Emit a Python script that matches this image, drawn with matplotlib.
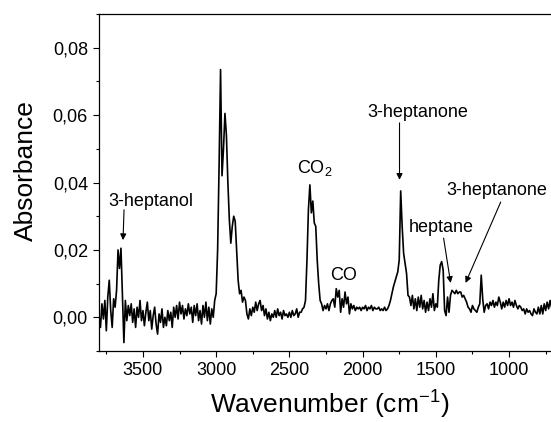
import numpy as np
import matplotlib
matplotlib.use("Agg")
import matplotlib.pyplot as plt
from matplotlib.ticker import FuncFormatter, MultipleLocator

plt.rcParams['font.family'] = ['Liberation Sans', 'DejaVu Sans']
plt.rcParams['mathtext.fontset'] = 'custom'
plt.rcParams['mathtext.rm'] = 'Liberation Sans'
plt.rcParams['mathtext.it'] = 'Liberation Sans:italic'
plt.rcParams['mathtext.default'] = 'regular'

# spectrum sampled every 10 cm-1 from 3800 down to 700
wavenumber = np.arange(3800, 699, -10)

# absorbance in units of 1e-3, one row per 100 cm-1
absorbance_milli = [
    0.5, -3.0, 4.0, -0.5, 5.0, -4.0, 6.0, 11.0, 2.0, -3.0,       # 3800
    5.5, 3.0, 8.0, 20.0, 14.5, 20.5, 7.0, -7.5, 5.0, -1.0,       # 3700
    3.5, 0.5, 4.0, -1.5, 2.5, -3.0, 3.0, 0.0, 5.0, -1.0,         # 3600
    2.0, -2.5, 1.5, 4.5, -1.0, 2.0, -3.5, 0.5, 3.0, -2.0,        # 3500
    -5.0, 1.0, -1.5, 2.5, -3.0, 0.0, -2.5, 2.0, -1.0, 1.5,       # 3400
    -3.0, 3.0, 0.0, 3.5, -0.5, 4.5, 1.0, 3.5, -0.5, 2.5,         # 3300
    0.5, 4.0, 1.0, 3.0, -1.5, 3.5, 0.5, 4.0, -1.0, 2.0,          # 3200
    -2.0, 3.5, 0.0, 4.5, -1.0, 3.0, -2.0, 2.5, 0.0, 5.0,         # 3100
    7.0, 20.0, 45.0, 73.5, 42.0, 50.0, 60.5, 54.0, 40.0, 29.0,   # 3000
    22.0, 27.0, 30.0, 28.5, 20.0, 11.0, 7.0, 8.0, 4.5, 6.0,      # 2900
    5.0, 1.0, -0.5, 2.5, 0.5, 3.0, 1.5, 4.5, 2.0, 4.0,           # 2800
    5.0, 2.0, 3.5, 0.5, 2.5, -0.5, 1.5, -1.0, 1.0, 0.0,          # 2700
    2.0, 0.0, 2.5, 0.5, 1.5, -0.5, 2.0, 0.5, 1.0, 0.0,           # 2600
    1.5, 0.0, 2.0, 0.5, 1.0, 2.5, 0.0, 1.5, 1.5, 2.5,            # 2500
    3.0, 5.0, 17.0, 32.0, 39.3, 31.0, 34.5, 28.0, 27.0, 17.0,    # 2400
    10.0, 5.0, 4.0, 2.0, 3.5, 2.5, 4.0, 2.0, 4.0, 5.0,           # 2300
    5.5, 3.0, 8.5, 6.0, 8.0, 1.5, 5.5, 3.0, 7.5, 4.0,            # 2200
    6.0, 1.0, 4.0, 2.5, 3.5, 2.0, 3.0, 2.5, 3.0, 2.0,            # 2100
    3.0, 2.5, 3.5, 2.0, 3.0, 2.5, 3.5, 2.0, 3.0, 2.5,            # 2000
    2.5, 3.0, 2.0, 2.5, 2.0, 3.0, 2.0, 2.5, 3.5, 5.0,            # 1900
    7.0, 9.0, 10.5, 12.0, 13.5, 17.0, 37.5, 27.0, 19.0, 16.0,    # 1800
    13.0, 6.5, 6.0, 3.5, 6.5, 2.5, 5.5, 2.0, 6.0, 3.0,           # 1700
    6.5, 2.5, 5.0, 1.5, 4.5, 2.0, 5.5, 3.0, 7.0, 2.0,            # 1600
    4.0, 3.0, 11.0, 15.5, 16.5, 14.0, 2.0, 0.5, 6.0, 1.5,        # 1500
    6.5, 8.0, 7.5, 7.0, 8.0, 7.0, 7.5, 7.5, 6.0, 6.5,            # 1400
    5.5, 4.5, 3.0, 2.5, 1.5, 3.5, 2.5, 2.0, 1.5, 3.0,            # 1300
    4.0, 12.5, 5.5, 1.5, 3.5, 4.0, 2.5, 4.5, 3.5, 5.0,           # 1200
    3.0, 4.5, 3.5, 6.0, 4.5, 2.5, 4.5, 3.0, 5.0, 3.5,            # 1100
    5.5, 3.5, 4.5, 3.0, 5.0, 3.5, 2.5, 3.5, 3.0, 2.0,            # 1000
    2.5, 1.0, 2.5, 1.5, 2.0, 1.0, 0.5, 2.5, 1.5, 1.0,            # 900
    3.0, 1.0, 3.5, 1.0, 4.0, 2.0, 4.5, 2.5, 5.0, 3.0,            # 800
    4.0,                                                         # 700
]
absorbance = np.array(absorbance_milli) / 1000.0

fig = plt.figure(figsize=(5.51, 4.22), dpi=100)
ax = fig.add_axes([99 / 551, 71 / 422, 454 / 551, 337 / 422])

ax.plot(wavenumber, absorbance, color='black', lw=1.2)

ax.set_xlim(3800, 700)
ax.set_ylim(-0.01, 0.09)
ax.xaxis.set_major_locator(MultipleLocator(500))
ax.xaxis.set_minor_locator(MultipleLocator(250))
ax.yaxis.set_major_locator(MultipleLocator(0.02))
ax.yaxis.set_minor_locator(MultipleLocator(0.01))
ax.yaxis.set_major_formatter(FuncFormatter(lambda v, p: f"{v:.2f}".replace('.', ',')))
ax.tick_params(which='both', direction='out', labelsize=13, pad=3.5, width=0.8)
ax.tick_params(which='major', length=4.5)
ax.tick_params(which='minor', length=2.5)
for s in ax.spines.values():
    s.set_linewidth(0.9)

ax.set_xlabel("Wavenumber (cm$^{-1}$)", fontsize=19)
ax.xaxis.label.set_va('baseline')
ax.xaxis.set_label_coords(0.509, -0.186)
ax.set_ylabel("Absorbance", fontsize=19)
ax.yaxis.label.set_va('baseline')
ax.yaxis.set_label_coords(-0.145, 0.534)

arrow = dict(arrowstyle='-|>', color='black', lw=0.8, mutation_scale=9,
             shrinkA=0, shrinkB=0)
ax.annotate("", xy=(3636, 0.0229), xytext=(3629, 0.0319), arrowprops=arrow)
ax.text(3444, 0.0345, "3-heptanol", fontsize=13, ha='center', va='center')
ax.text(2329, 0.0443, "CO$_2$", fontsize=13, ha='center', va='center')
ax.text(2131, 0.0123, "CO", fontsize=13, ha='center', va='center')
ax.annotate("", xy=(1748, 0.0408), xytext=(1748, 0.0577), arrowprops=arrow)
ax.text(1625, 0.0609, "3-heptanone", fontsize=13, ha='center', va='center')
ax.annotate("", xy=(1399, 0.0102), xytext=(1447, 0.0235), arrowprops=arrow)
ax.text(1461, 0.0265, "heptane", fontsize=13, ha='center', va='center')
ax.annotate("", xy=(1297, 0.0102), xytext=(1057, 0.0342), arrowprops=arrow)
ax.text(1085, 0.0375, "3-heptanone", fontsize=13, ha='center', va='center')

fig.savefig("out.png", dpi=100)
